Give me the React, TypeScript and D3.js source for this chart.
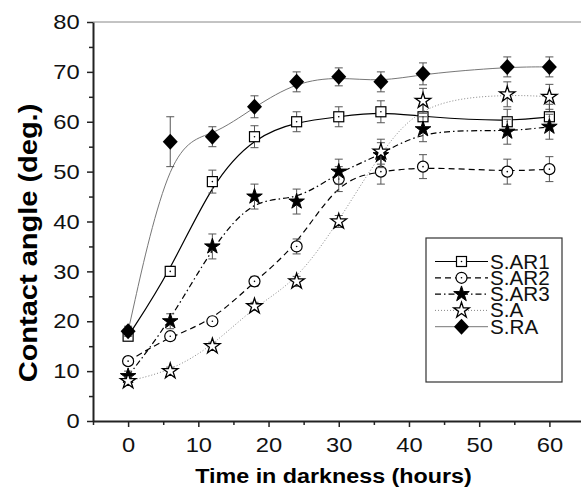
import * as d3 from "d3";
import { useEffect, useRef } from "react";

// hours in darkness
const hours = [0, 6, 12, 18, 24, 30, 36, 42, 54, 60];

// contact angle (deg.) per sample
const sAR1 = [17, 30, 48, 57, 60, 61, 62, 61, 60, 61];
const sAR2 = [12, 17, 20, 28, 35, 48.5, 50, 51, 50, 50.5];
const sAR3 = [9, 20, 35, 45, 44, 50, 53.3, 58.5, 58, 59];
const sA = [8, 10, 15, 23, 28, 40, 54, 64.2, 65.5, 65];
const sRA = [18, 56, 57, 63, 68, 69, 68, 69.6, 71, 71];

// error bars (±)
const errAR1 = [0.8, 1, 2.3, 2.2, 2, 2, 2.2, 2.5, 2.5, 2.5];
const errAR2 = [0.8, 0.8, 0.8, 1, 1.5, 2.5, 2.5, 2.4, 2.5, 2.5];
const errAR3 = [1, 1.5, 2.5, 2.5, 2.5, 2.5, 2.5, 2.5, 2.5, 2.5];
const errA = [0.8, 0.8, 0.8, 0.8, 1, 1.2, 2.5, 2.5, 2.5, 2.5];
const errRA = [1, 5, 2, 2.2, 2, 1.8, 2, 2.2, 2, 2];

const seriesNames = ["S.AR1", "S.AR2", "S.AR3", "S.A", "S.RA"];
const xTicks = [0, 10, 20, 30, 40, 50, 60];
const yTicks = [0, 10, 20, 30, 40, 50, 60, 70, 80];

const W = 581;
const H = 489;

const App = () => {
  const svgRef = useRef(null);

  const drawChart = () => {
    d3.select(svgRef.current).selectAll("*").remove();
    const svg = d3.select(svgRef.current).attr("width", W).attr("height", H);

    const x = d3.scaleLinear().domain([-5, 64.5]).range([93, 581]);
    const y = d3.scaleLinear().domain([0, 80]).range([421, 22]);

    const series = [
      { name: seriesNames[0], values: sAR1, err: errAR1, marker: "square", stroke: "#000", width: 1.2, dash: null },
      { name: seriesNames[1], values: sAR2, err: errAR2, marker: "circle", stroke: "#000", width: 1.2, dash: "6,4" },
      { name: seriesNames[2], values: sAR3, err: errAR3, marker: "fstar", stroke: "#000", width: 1.2, dash: "6,3,1.5,3" },
      { name: seriesNames[3], values: sA, err: errA, marker: "ostar", stroke: "#888", width: 1, dash: "1,2" },
      { name: seriesNames[4], values: sRA, err: errRA, marker: "diamond", stroke: "#777", width: 1, dash: null },
    ];

    const starPath = d3.symbol(d3.symbolStar, 75)();
    const diamondPath = "M0,-8L7.5,0L0,8L-7.5,0Z";

    const drawMarker = (g, kind, cx, cy) => {
      const m = g.append("g").attr("transform", `translate(${cx},${cy})`);
      if (kind === "square") {
        m.append("rect").attr("x", -5).attr("y", -5).attr("width", 10).attr("height", 10)
          .attr("fill", "#fff").attr("stroke", "#000").attr("stroke-width", 1.2);
        m.append("circle").attr("r", 0.8).attr("fill", "#000");
      } else if (kind === "circle") {
        m.append("circle").attr("r", 5.5).attr("fill", "#fff").attr("stroke", "#000").attr("stroke-width", 1.2);
        m.append("circle").attr("r", 0.8).attr("fill", "#000");
      } else if (kind === "fstar") {
        m.append("path").attr("d", starPath).attr("fill", "#000").attr("stroke", "#000").attr("stroke-width", 1);
      } else if (kind === "ostar") {
        m.append("path").attr("d", starPath).attr("fill", "#fff").attr("stroke", "#000").attr("stroke-width", 1.3);
      } else {
        m.append("path").attr("d", diamondPath).attr("fill", "#000");
      }
    };

    // top frame line
    svg.append("line").attr("x1", 93).attr("x2", W).attr("y1", y(80)).attr("y2", y(80))
      .attr("stroke", "#888").attr("stroke-width", 1);

    // smoothed series lines
    series.forEach((s) => {
      const pts = hours.map((h, i) => [x(h), y(s.values[i])]);
      const line = d3.line().curve(d3.curveBasis);
      svg.append("path").attr("d", line(pts)).attr("fill", "none")
        .attr("stroke", s.stroke).attr("stroke-width", s.width)
        .attr("stroke-dasharray", s.dash);
    });

    // error bars + symbols
    series.forEach((s) => {
      const g = svg.append("g");
      hours.forEach((h, i) => {
        const cx = x(h);
        const top = y(s.values[i] + s.err[i]);
        const bot = y(s.values[i] - s.err[i]);
        g.append("line").attr("x1", cx).attr("x2", cx).attr("y1", top).attr("y2", bot)
          .attr("stroke", "#555").attr("stroke-width", 1);
        [top, bot].forEach((yy) => {
          g.append("line").attr("x1", cx - 4).attr("x2", cx + 4).attr("y1", yy).attr("y2", yy)
            .attr("stroke", "#555").attr("stroke-width", 1);
        });
      });
      hours.forEach((h, i) => drawMarker(g, s.marker, x(h), y(s.values[i])));
    });

    // axes
    const font = "Liberation Sans, Arial, sans-serif";
    const xAxis = svg.append("g").attr("transform", `translate(0,${y(0)})`)
      .call(d3.axisBottom(x).tickValues(xTicks).tickSize(6).tickSizeOuter(0).tickPadding(10));
    svg.append("g").attr("transform", `translate(0,${y(0)})`)
      .call(d3.axisBottom(x).tickValues(d3.range(-5, 65, 10)).tickSize(4).tickFormat(() => "").tickSizeOuter(0))
      .call((g) => g.select(".domain").remove());
    const yAxis = svg.append("g").attr("transform", `translate(93,0)`)
      .call(d3.axisLeft(y).tickValues(yTicks).tickSize(6).tickSizeOuter(0).tickPadding(5));
    svg.append("g").attr("transform", `translate(93,0)`)
      .call(d3.axisLeft(y).tickValues(d3.range(5, 80, 10)).tickSize(4).tickFormat(() => "").tickSizeOuter(0))
      .call((g) => g.select(".domain").remove());

    [xAxis, yAxis].forEach((a) => {
      a.select(".domain").attr("stroke", "#222").attr("stroke-width", 2);
      a.selectAll("text").attr("font-family", font).attr("font-size", 21).attr("fill", "#111")
        .attr("transform", "scale(1.13,1)");
    });
    yAxis.selectAll("text").attr("x", -11 / 1.13 - 2);
    svg.selectAll(".tick line").attr("stroke", "#222").attr("stroke-width", 1.5);

    svg.append("text").attr("transform", "translate(333.5,483) scale(1.11,1)").attr("text-anchor", "middle")
      .attr("font-family", font).attr("font-weight", "bold").attr("font-size", 21)
      .text("Time in darkness (hours)");
    svg.append("text").attr("transform", "translate(37,243) rotate(-90) scale(1.16,1)").attr("text-anchor", "middle")
      .attr("font-family", font).attr("font-weight", "bold").attr("font-size", 25)
      .text("Contact angle (deg.)");

    // legend
    const lg = svg.append("g");
    lg.append("rect").attr("x", 426).attr("y", 238).attr("width", 136).attr("height", 144)
      .attr("fill", "#fff").attr("stroke", "#333").attr("stroke-width", 1.2);
    series.forEach((s, i) => {
      const ly = 261.5 + i * 16.3;
      lg.append("line").attr("x1", 435).attr("x2", 488).attr("y1", ly).attr("y2", ly)
        .attr("stroke", s.stroke).attr("stroke-width", s.width).attr("stroke-dasharray", s.dash);
      drawMarker(lg, s.marker, 461.5, ly);
      lg.append("text").attr("transform", `translate(490,${ly + 7}) scale(1.06,1)`).attr("font-family", font)
        .attr("font-size", 19.5).attr("fill", "#111").text(s.name);
    });
  };

  useEffect(() => {
    drawChart();
  }, []);

  return <svg ref={svgRef} style={{ position: "absolute", left: 0, top: 0 }}></svg>;
};

export default App;
